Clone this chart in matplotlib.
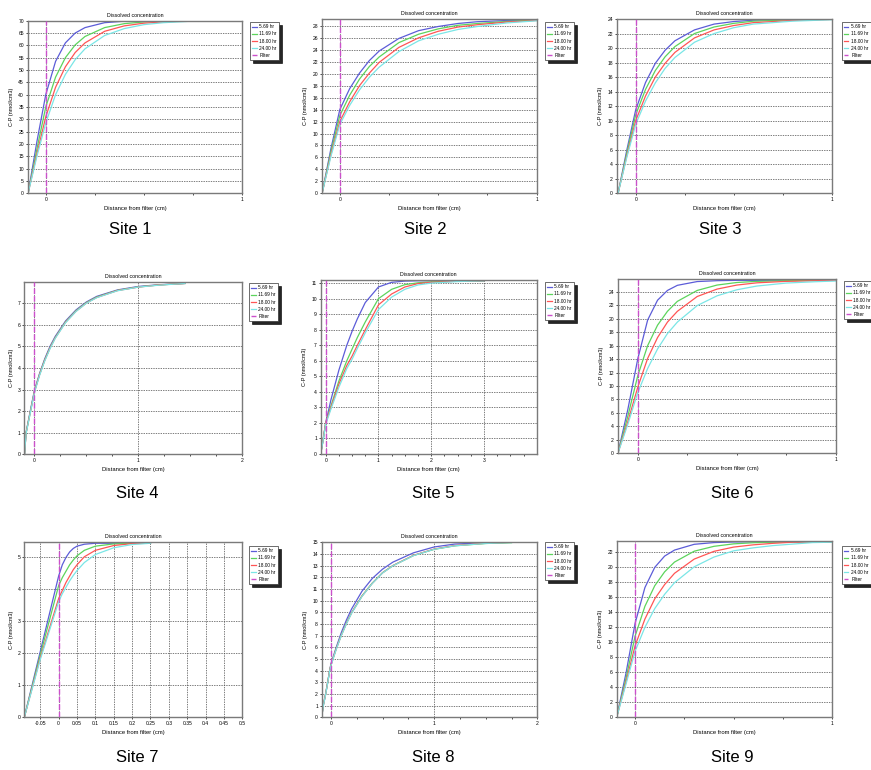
import matplotlib
matplotlib.use('Agg')
import matplotlib.pyplot as plt

plt.rcParams['font.family'] = ['Liberation Sans', 'DejaVu Sans']
plt.rcParams['axes.unicode_minus'] = False

W, H = 871, 770

SERIES = ['5.69 hr', '11.69 hr', '18.00 hr', '24.00 hr']
COLORS = ['#5c5cd8', '#5cd45c', '#ff5555', '#7ae6e6']
FILTER_COLOR = '#cc50cc'

# concentration profiles, one x list per site, rows = 5.69 / 11.69 / 18.00 / 24.00 hr
s1_x = [-0.09, -0.045, 0, 0.05, 0.1, 0.15, 0.2, 0.3, 0.4, 0.5, 0.6, 0.72]
s1_y = [[0, 21, 40, 53.5, 61, 65, 67.2, 69.2, 69.8, 70, 70, 70],
        [0, 18, 35, 47.1, 55.0, 60.2, 63.6, 67.2, 68.8, 69.5, 69.8, 70],
        [0, 16, 31, 43.0, 51.3, 57.1, 61.0, 65.7, 67.9, 69.0, 69.5, 69.9],
        [0, 15, 28.5, 40, 48.2, 54.2, 58.6, 64.0, 66.8, 68.4, 69.2, 69.7]]

s2_x = [-0.09, -0.045, 0, 0.05, 0.1, 0.15, 0.2, 0.3, 0.4, 0.5, 0.6, 0.7, 0.85, 1.0]
s2_y = [[0, 7.5, 14, 17.5, 20.1, 22.2, 23.8, 25.9, 27.2, 27.9, 28.4, 28.7, 28.9, 29.0],
        [0, 7, 13, 16.4, 19.1, 21.2, 22.8, 25.2, 26.6, 27.5, 28.1, 28.4, 28.75, 28.95],
        [0, 6.5, 12, 15.3, 18.0, 20.1, 21.9, 24.4, 26.0, 27.1, 27.8, 28.2, 28.65, 28.9],
        [0, 6.2, 11.5, 14.7, 17.3, 19.4, 21.1, 23.7, 25.5, 26.6, 27.4, 27.9, 28.5, 28.85]]

s3_x = [-0.09, -0.045, 0, 0.05, 0.1, 0.15, 0.2, 0.3, 0.4, 0.5, 0.6, 0.8, 1.0]
s3_y = [[0, 6, 11.5, 15.25, 17.9, 19.7, 21.0, 22.5, 23.3, 23.65, 23.83, 23.96, 24],
        [0, 5.6, 10.8, 14.3, 16.9, 18.8, 20.2, 22.0, 22.9, 23.4, 23.7, 23.9, 24],
        [0, 5.2, 10, 13.4, 16.0, 17.9, 19.4, 21.4, 22.5, 23.1, 23.5, 23.8, 23.95],
        [0, 5, 9.5, 12.7, 15.2, 17.2, 18.7, 20.8, 22.0, 22.8, 23.3, 23.7, 23.9]]

s4_x = [-0.095, -0.08, -0.04, 0, 0.05, 0.1, 0.15, 0.2, 0.3, 0.4, 0.5, 0.6, 0.8, 1.0, 1.2, 1.45]
s4_y = [[0, 1.0, 2.0, 2.95, 3.75, 4.43, 5.0, 5.46, 6.18, 6.69, 7.06, 7.32, 7.62, 7.78, 7.86, 7.92],
        [0, 1.0, 1.95, 2.9, 3.71, 4.38, 4.94, 5.41, 6.14, 6.65, 7.03, 7.29, 7.60, 7.76, 7.85, 7.92],
        [0, 0.98, 1.93, 2.88, 3.69, 4.36, 4.92, 5.39, 6.12, 6.63, 7.01, 7.27, 7.59, 7.75, 7.85, 7.92],
        [0, 0.95, 1.9, 2.85, 3.66, 4.33, 4.89, 5.37, 6.1, 6.62, 7.0, 7.26, 7.58, 7.75, 7.84, 7.92]]

s5_x = [-0.095, -0.05, 0, 0.1, 0.25, 0.4, 0.5, 0.6, 0.75, 1.0, 1.25, 1.5, 1.75, 2.0, 2.5, 3.0]
s5_y = [[0, 0.9, 2.0, 3.5, 5.4, 7.0, 7.9, 8.7, 9.75, 10.75, 11.05, 11.13, 11.15, 11.15, 11.15, 11.15],
        [0, 0.9, 2.0, 3.1, 4.7, 6.0, 6.75, 7.5, 8.5, 10.0, 10.6, 10.9, 11.02, 11.08, 11.13, 11.15],
        [0, 0.9, 2.0, 3.0, 4.5, 5.7, 6.3, 7.0, 8.0, 9.6, 10.3, 10.75, 10.97, 11.05, 11.12, 11.15],
        [0, 0.85, 1.9, 2.9, 4.3, 5.5, 6.1, 6.8, 7.8, 9.3, 10.1, 10.6, 10.88, 11.0, 11.1, 11.15]]

s6_x = [-0.1, -0.05, 0, 0.05, 0.1, 0.15, 0.2, 0.3, 0.4, 0.5, 0.6, 0.75, 0.9, 1.0]
s6_y = [[0, 6.5, 14, 19.8, 22.75, 24.2, 24.96, 25.52, 25.65, 25.7, 25.7, 25.7, 25.7, 25.7],
        [0, 5.5, 11.5, 16.0, 19.04, 21.1, 22.58, 24.2, 25.0, 25.38, 25.55, 25.65, 25.7, 25.7],
        [0, 4.7, 9.8, 14.1, 17.2, 19.5, 21.1, 23.3, 24.4, 25.0, 25.33, 25.55, 25.65, 25.7],
        [0, 4.3, 9.0, 12.6, 15.5, 17.8, 19.5, 21.95, 23.4, 24.3, 24.85, 25.3, 25.5, 25.6]]

s7_x = [-0.0935, -0.05, 0, 0.01, 0.02, 0.03, 0.04, 0.05, 0.07, 0.1, 0.15, 0.2, 0.25]
s7_y = [[0, 2.05, 4.4, 4.75, 4.98, 5.15, 5.26, 5.33, 5.39, 5.42, 5.42, 5.42, 5.42],
        [0, 1.95, 4.1, 4.35, 4.55, 4.75, 4.9, 5.03, 5.2, 5.33, 5.4, 5.42, 5.42],
        [0, 1.85, 3.7, 3.95, 4.2, 4.4, 4.6, 4.75, 5.0, 5.2, 5.35, 5.41, 5.42],
        [0, 1.8, 3.6, 3.85, 4.05, 4.25, 4.42, 4.57, 4.82, 5.07, 5.28, 5.38, 5.42]]

s8_x = [-0.09, -0.075, -0.052, -0.032, -0.013, 0, 0.05, 0.1, 0.15, 0.2, 0.3, 0.4, 0.5, 0.6,
        0.8, 1.0, 1.2, 1.5, 1.75]
s8_y = [[0, 1, 2, 3, 4, 4.6, 5.98, 7.26, 8.35, 9.29, 10.8, 11.9, 12.7, 13.3, 14.1, 14.6, 14.85, 14.97, 15],
        [0, 1, 2, 3, 4, 4.5, 5.86, 7.05, 8.08, 8.97, 10.4, 11.5, 12.4, 13.0, 13.87, 14.4, 14.7, 14.9, 14.97],
        [0, 1, 2, 3, 4, 4.5, 5.84, 7.02, 8.05, 8.95, 10.38, 11.48, 12.38, 13.0, 13.88, 14.42, 14.72, 14.92, 15],
        [0, 0.95, 1.95, 2.95, 3.95, 4.45, 5.8, 7.0, 8.02, 8.92, 10.35, 11.47, 12.37, 12.98, 13.86, 14.4, 14.7, 14.9, 14.98]]

s9_x = [-0.093, -0.045, 0, 0.05, 0.1, 0.15, 0.2, 0.3, 0.4, 0.5, 0.6, 0.7, 0.8, 0.9, 1.0]
s9_y = [[0, 6.0, 12.5, 17.3, 20.0, 21.5, 22.3, 23.07, 23.3, 23.38, 23.4, 23.4, 23.4, 23.4, 23.4],
        [0, 5.3, 10.8, 14.8, 17.55, 19.4, 20.7, 22.15, 22.8, 23.13, 23.28, 23.35, 23.4, 23.4, 23.4],
        [0, 4.8, 9.5, 13.1, 15.8, 17.7, 19.2, 21.1, 22.13, 22.7, 23.0, 23.2, 23.35, 23.4, 23.4],
        [0, 4.5, 8.8, 12.0, 14.5, 16.4, 17.95, 20.07, 21.37, 22.2, 22.6, 22.9, 23.1, 23.3, 23.35]]

# axis setup per site: x range, y range, x ticks, y ticks
s1_xlim, s1_ylim, s1_xt, s1_yt = (-0.092, 1.0), (0, 70), [0, 1], list(range(0, 71, 5))
s2_xlim, s2_ylim, s2_xt, s2_yt = (-0.092, 1.0), (0, 29.1), [0, 1], list(range(0, 29, 2))
s3_xlim, s3_ylim, s3_xt, s3_yt = (-0.097, 1.0), (0, 24), [0, 1], list(range(0, 25, 2))
s4_xlim, s4_ylim, s4_xt, s4_yt = (-0.097, 2.0), (0, 8.0), [0, 1, 2], list(range(0, 8))
s5_xlim, s5_ylim, s5_xt, s5_yt = (-0.095, 4.0), (0, 11.2), [0, 1, 2, 3], list(range(0, 12))
s6_xlim, s6_ylim, s6_xt, s6_yt = (-0.101, 1.0), (0, 25.9), [0, 1], list(range(0, 25, 2))
s7_xlim, s7_ylim, s7_xt, s7_yt = (-0.0935, 0.5), (0, 5.45), [round(-0.05 + 0.05 * i, 2) for i in range(12)], list(range(0, 6))
s8_xlim, s8_ylim, s8_xt, s8_yt = (-0.09, 2.0), (0, 15), [0, 1, 2], list(range(0, 16))
s9_xlim, s9_ylim, s9_xt, s9_yt = (-0.093, 1.0), (0, 23.55), [0, 1], list(range(0, 23, 2))

# panel frames in pixels: left, top, right, bottom; legend top-left; caption centre
sites = [
    ('Site 1', s1_x, s1_y, s1_xlim, s1_ylim, s1_xt, s1_yt, (27.7, 20.7, 242, 193.3), (250, 22), (130, 230)),
    ('Site 2', s2_x, s2_y, s2_xlim, s2_ylim, s2_xt, s2_yt, (321.7, 19.3, 536.7, 193.3), (545, 22), (425, 230)),
    ('Site 3', s3_x, s3_y, s3_xlim, s3_ylim, s3_xt, s3_yt, (616.7, 19, 831.7, 193.3), (841.7, 22), (720, 230)),
    ('Site 4', s4_x, s4_y, s4_xlim, s4_ylim, s4_xt, s4_yt, (24.3, 281.7, 242.3, 454.3), (249, 283), (137, 494)),
    ('Site 5', s5_x, s5_y, s5_xlim, s5_ylim, s5_xt, s5_yt, (320.7, 280, 536.7, 454), (545, 282), (433, 494)),
    ('Site 6', s6_x, s6_y, s6_xlim, s6_ylim, s6_xt, s6_yt, (617.7, 279, 836, 453.3), (844, 281), (732, 494)),
    ('Site 7', s7_x, s7_y, s7_xlim, s7_ylim, s7_xt, s7_yt, (24.3, 542.3, 242.3, 717.3), (249, 546), (137, 758)),
    ('Site 8', s8_x, s8_y, s8_xlim, s8_ylim, s8_xt, s8_yt, (321.7, 542.3, 537.3, 717.3), (545, 542), (433, 758)),
    ('Site 9', s9_x, s9_y, s9_xlim, s9_ylim, s9_xt, s9_yt, (616.7, 540.7, 832.3, 717.3), (841.7, 546), (732, 758)),
]

fig = plt.figure(figsize=(W / 100, H / 100), dpi=100)

for name, xs, ys, xlim, ylim, xt, yt, box, legpos, cap in sites:
    l, t, r, b = box
    ax = fig.add_axes([l / W, 1 - b / H, (r - l) / W, (b - t) / H])
    for y, c, lab in zip(ys, COLORS, SERIES):
        ax.plot(xs, y, color=c, lw=0.9, label=lab)
    ax.axvline(0, color=FILTER_COLOR, lw=1.0, ls=(0, (4, 1.5)), label='Filter', zorder=3)

    ax.set_xlim(*xlim)
    ax.set_ylim(*ylim)
    ax.set_xticks(xt)
    ax.set_xticklabels(['{:g}'.format(v) for v in xt])
    if len(xt) <= 4:
        step = xt[1] - xt[0]
        ax.set_xticks([m * step / 4 for m in range(1, int(xlim[1] / step * 4) + 1) if m % 4], minor=True)
    ax.set_yticks(yt)
    ax.grid(True, ls=(0, (2, 1.5)), color='#4a4a4a', lw=0.5)
    ax.tick_params(labelsize=3.6, length=1.5, width=0.5, pad=1.2)
    ax.tick_params(which='minor', length=1.5, width=0.5)
    for sp in ax.spines.values():
        sp.set_color('#7a7a7a')
        sp.set_linewidth(1.0)

    ax.set_title('Dissolved concentration', fontsize=3.8, pad=3)
    ax.set_xlabel('Distance from filter (cm)', fontsize=4.2, labelpad=3)
    ax.set_ylabel('C-P (nmol/cm3)', fontsize=4.0, labelpad=3)

    leg = ax.legend(loc='upper left', bbox_to_anchor=(legpos[0] / W, 1 - legpos[1] / H),
                    bbox_transform=fig.transFigure, borderaxespad=0,
                    fontsize=3.4, handlelength=0.9, handletextpad=0.6, borderpad=0.5,
                    labelspacing=0.45, fancybox=False,
                    shadow={'color': 'black', 'alpha': 0.85})
    leg.get_frame().set_edgecolor('#333333')
    leg.get_frame().set_linewidth(0.5)

    fig.text(cap[0] / W, 1 - cap[1] / H, name, ha='center', va='center', fontsize=12)

fig.savefig('out.png', dpi=100)
